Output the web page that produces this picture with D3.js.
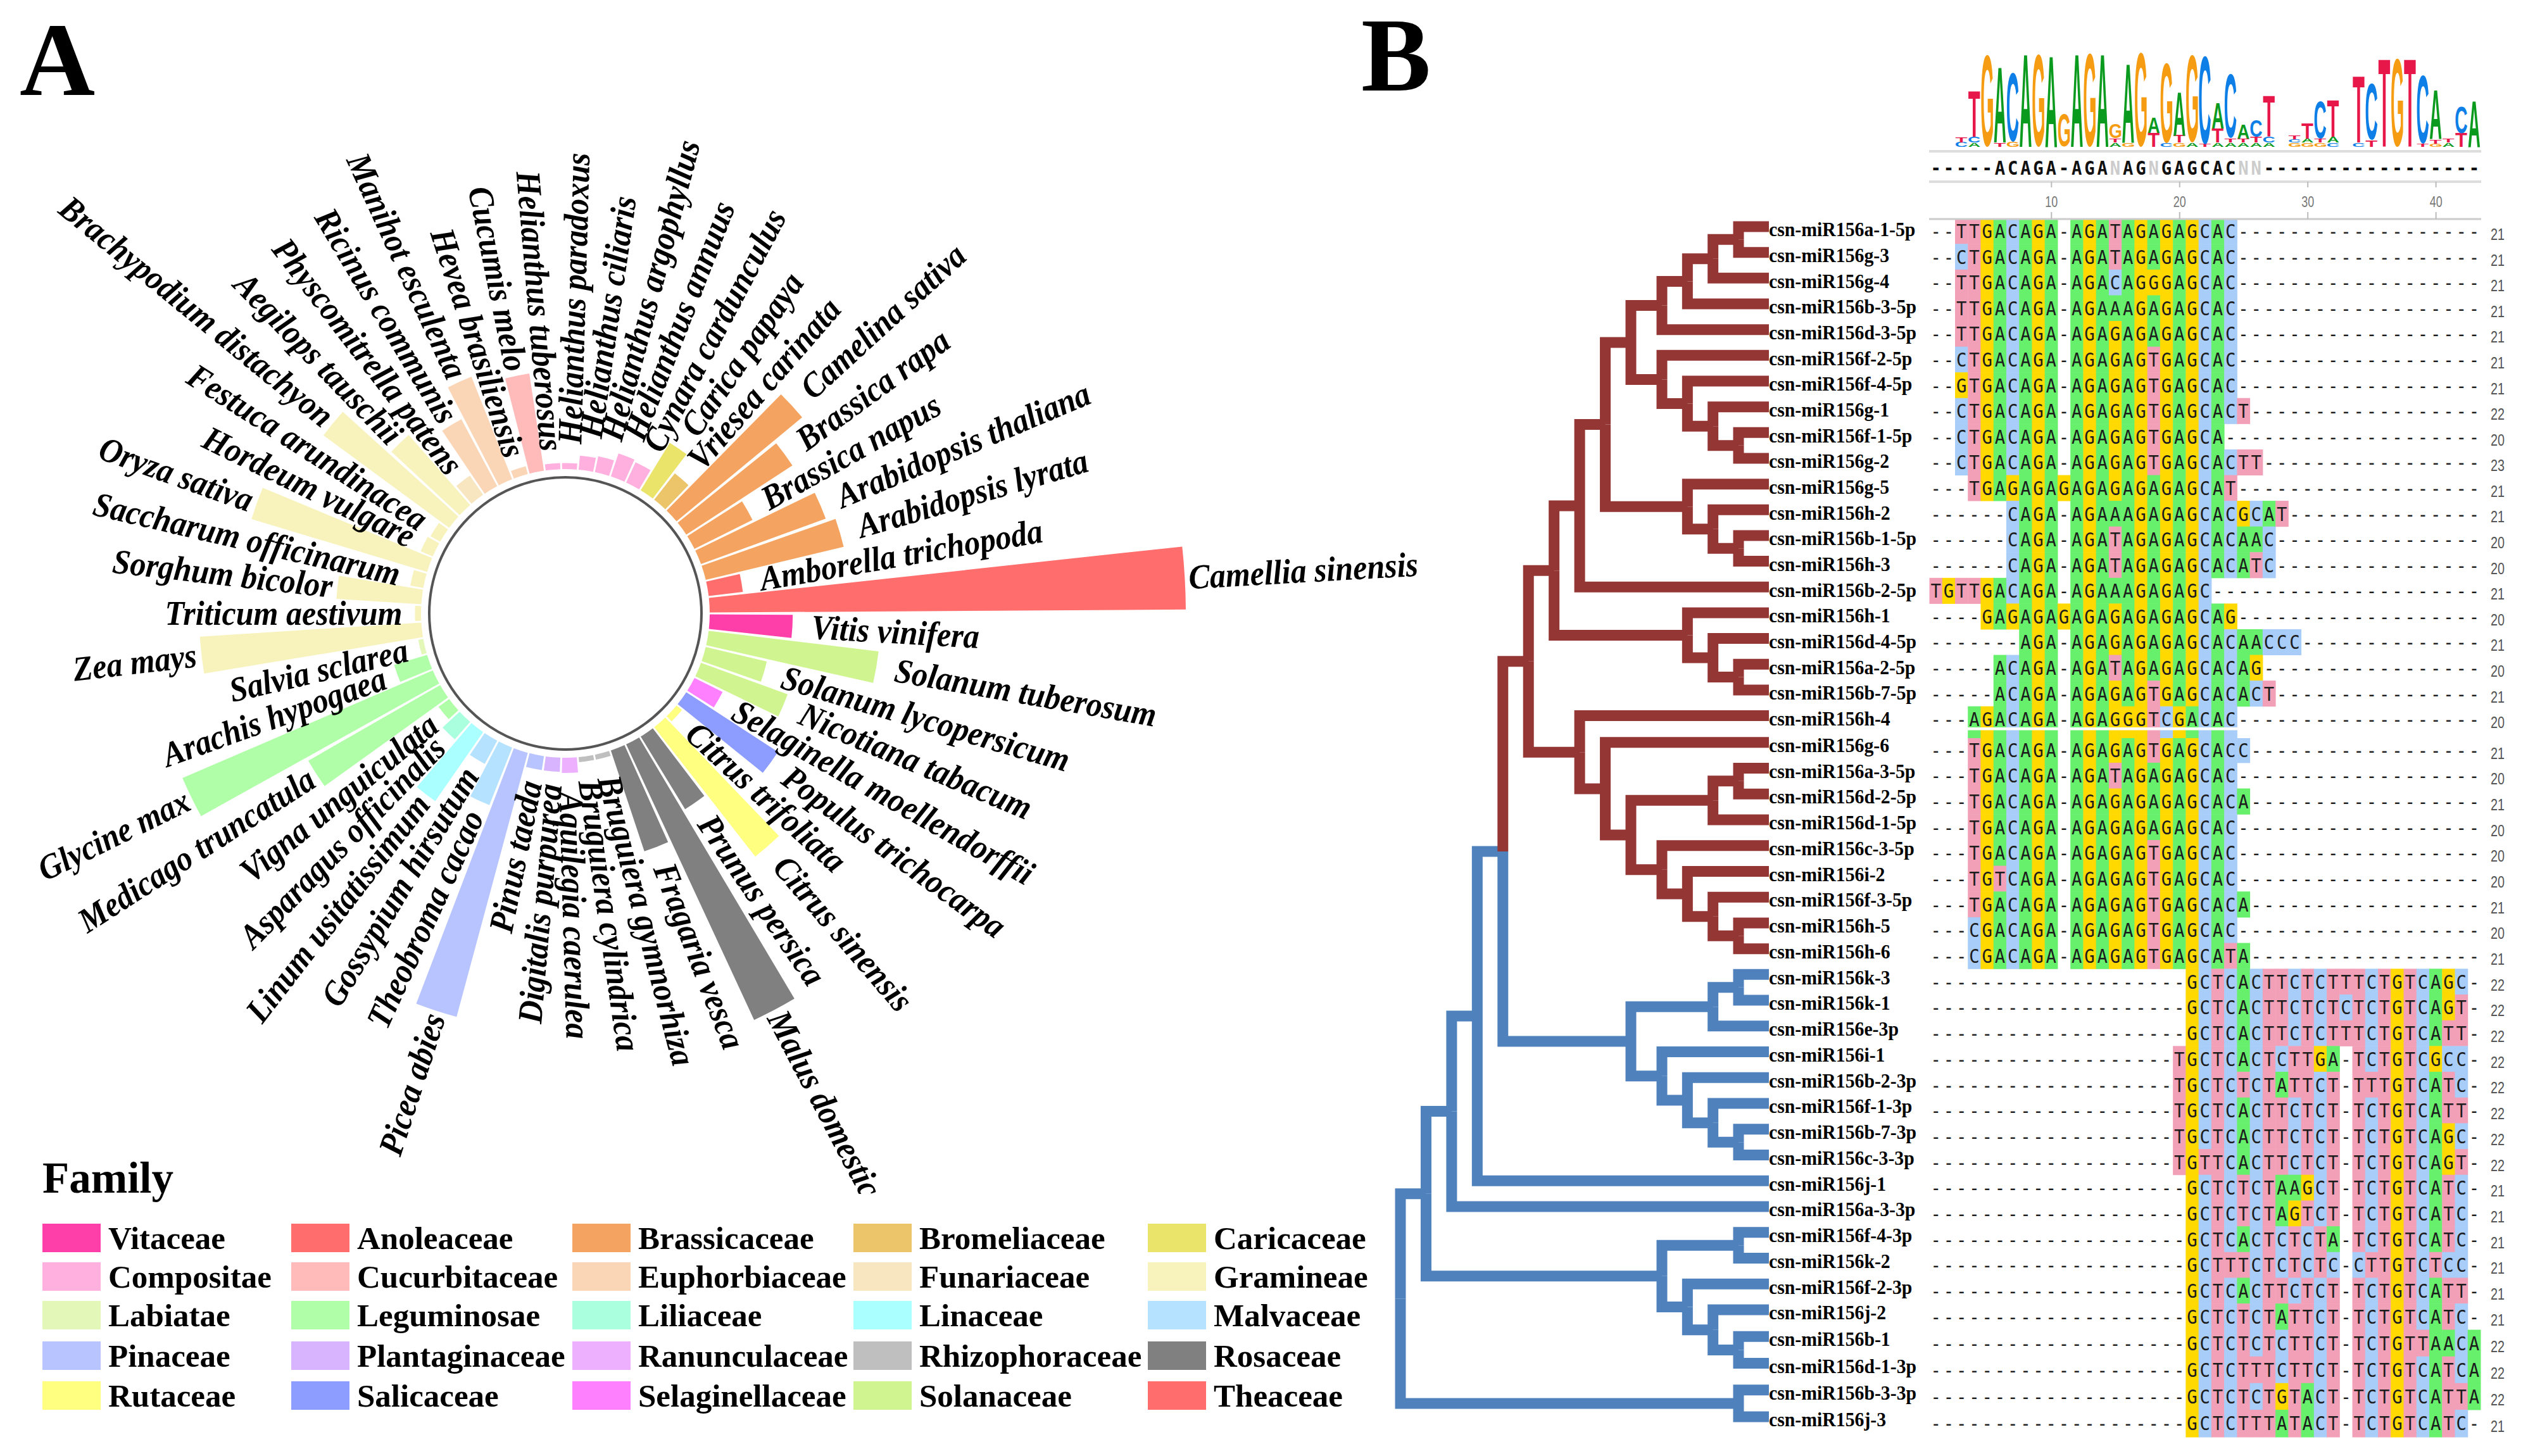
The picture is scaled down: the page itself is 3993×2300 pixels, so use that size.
<!DOCTYPE html>
<html>
<head>
<meta charset="utf-8">
<script src="https://cdn.jsdelivr.net/npm/d3@7.9.0/dist/d3.min.js"></script>
<style>
  html, body { margin: 0; background: #fff; }
  svg { display: block; }
</style>
</head>
<body>
<svg id="fig" width="3993" height="2300"></svg>
<script>
// ---- panel A data, counter clockwise from 3 o'clock
const species = ['Camellia sinensis','Amborella trichopoda','Arabidopsis lyrata','Arabidopsis thaliana','Brassica napus','Brassica rapa','Camelina sativa','Vriesea carinata','Carica papaya','Cynara cardunculus','Helianthus annuus','Helianthus argophyllus','Helianthus ciliaris','Helianthus paradoxus','Helianthus tuberosus','Cucumis melo','Hevea brasiliensis','Manihot esculenta','Ricinus communis','Physcomitrella patens','Aegilops tauschii','Brachypodium distachyon','Festuca arundinacea','Hordeum vulgare','Oryza sativa','Saccharum officinarum','Sorghum bicolor','Triticum aestivum','Zea mays','Salvia sclarea','Arachis hypogaea','Glycine max','Medicago truncatula','Vigna unguiculata','Asparagus officinalis','Linum usitatissimum','Gossypium hirsutum','Theobroma cacao','Picea abies','Pinus taeda','Digitalis purpurea','Aquilegia caerulea','Bruguiera cylindrica','Bruguiera gymnorhiza','Fragaria vesca','Malus domestica','Prunus persica','Citrus sinensis','Citrus trifoliata','Populus trichocarpa','Selaginella moellendorffii','Nicotiana tabacum','Solanum lycopersicum','Solanum tuberosum','Vitis vinifera'];
const speciesValues = [47,3.4,14,13.1,6.4,12.5,16.1,3.3,5.5,2.2,2.4,1.6,1.4,0.6,0.6,9.7,0.8,10.9,7.5,2.3,9.2,15.4,1.1,1.3,18.1,1.3,8.4,0.6,21.9,0.5,3.4,26.9,15,1.3,2.3,8.3,2.6,6.1,27,1.4,1.4,1.5,0.5,0.5,10.5,30,8.4,16.2,0.7,10.8,3.1,9.1,6.2,16.9,8.2];
const speciesFamily = ['Theaceae','Anoleaceae','Brassicaceae','Brassicaceae','Brassicaceae','Brassicaceae','Brassicaceae','Bromeliaceae','Caricaceae','Compositae','Compositae','Compositae','Compositae','Compositae','Compositae','Cucurbitaceae','Euphorbiaceae','Euphorbiaceae','Euphorbiaceae','Funariaceae','Gramineae','Gramineae','Gramineae','Gramineae','Gramineae','Gramineae','Gramineae','Gramineae','Gramineae','Labiatae','Leguminosae','Leguminosae','Leguminosae','Leguminosae','Liliaceae','Linaceae','Malvaceae','Malvaceae','Pinaceae','Pinaceae','Plantaginaceae','Ranunculaceae','Rhizophoraceae','Rhizophoraceae','Rosaceae','Rosaceae','Rosaceae','Rutaceae','Rutaceae','Salicaceae','Selaginellaceae','Solanaceae','Solanaceae','Solanaceae','Vitaceae'];
const families = ['Vitaceae','Anoleaceae','Brassicaceae','Bromeliaceae','Caricaceae','Compositae','Cucurbitaceae','Euphorbiaceae','Funariaceae','Gramineae','Labiatae','Leguminosae','Liliaceae','Linaceae','Malvaceae','Pinaceae','Plantaginaceae','Ranunculaceae','Rhizophoraceae','Rosaceae','Rutaceae','Salicaceae','Selaginellaceae','Solanaceae','Theaceae'];
const familyColors = ['#ff3fa9','#ff6d6d','#f4a460','#ecc56a','#ebe46a','#ffb0df','#ffbaba','#fad5b6','#f8e6c0','#f8f3bc','#e2f7b8','#b0ffa8','#aaffdf','#aaffff','#b4e2ff','#b8c4ff','#d8b4ff','#ecb0ff','#bfbfbf','#808080','#ffff80','#8c9cff','#ff80ff','#d0f590','#ff6d6d'];

// ---- panel B data
const a4Clade = [[[['csn-miR156a-1-5p','csn-miR156g-3'],'csn-miR156g-4'],'csn-miR156b-3-5p'],'csn-miR156d-3-5p'];
const f2Clade = ['csn-miR156f-2-5p',['csn-miR156f-4-5p',['csn-miR156g-1',['csn-miR156f-1-5p','csn-miR156g-2']]]];
const g5Clade = ['csn-miR156g-5',['csn-miR156h-2',['csn-miR156b-1-5p','csn-miR156h-3']]];
const h1Clade = ['csn-miR156h-1',['csn-miR156d-4-5p',['csn-miR156a-2-5p','csn-miR156b-7-5p']]];
const h4Clade = ['csn-miR156h-4',['csn-miR156g-6',[[['csn-miR156a-3-5p','csn-miR156d-2-5p'],'csn-miR156d-1-5p'],
  ['csn-miR156c-3-5p',['csn-miR156i-2',['csn-miR156f-3-5p',['csn-miR156h-5','csn-miR156h-6']]]]]]];
const redClade = [[[[[a4Clade,f2Clade],g5Clade],'csn-miR156b-2-5p'],h1Clade],h4Clade];
const kClade = [[['csn-miR156k-3','csn-miR156k-1'],'csn-miR156e-3p'],
  ['csn-miR156i-1',['csn-miR156b-2-3p',['csn-miR156f-1-3p',['csn-miR156b-7-3p','csn-miR156c-3-3p']]]]];
const f4Clade = [['csn-miR156f-4-3p','csn-miR156k-2'],
  ['csn-miR156f-2-3p',['csn-miR156j-2',['csn-miR156b-1','csn-miR156d-1-3p']]]];
const treeData = [[[[[redClade,kClade],'csn-miR156j-1'],'csn-miR156a-3-3p'],f4Clade],['csn-miR156b-3-3p','csn-miR156j-3']];

const sequences = [
  '--TTGACAGA-AGATAGAGAGCAC','--CTGACAGA-AGATAGAGAGCAC','--TTGACAGA-AGACAGGGAGCAC','--TTGACAGA-AGAAAGAGAGCAC',
  '--TTGACAGA-AGAGAGAGAGCAC','--CTGACAGA-AGAGAGTGAGCAC','--GTGACAGA-AGAGAGTGAGCAC','--CTGACAGA-AGAGAGTGAGCACT',
  '--CTGACAGA-AGAGAGTGAGCA','--CTGACAGA-AGAGAGTGAGCACTT','---TGAGAGAGAGAGAGAGAGCAT','------CAGA-AGAAAGAGAGCACGCAT',
  '------CAGA-AGATAGAGAGCACAAC','------CAGA-AGATAGAGAGCACATC','TGTTGACAGA-AGAAAGAGAGC','----GAGAGAGAGAGAGAGAGCAG',
  '-------AGA-AGAGAGAGAGCACAACCC','-----ACAGA-AGATAGAGAGCACAG','-----ACAGA-AGAGAGTGAGCACACT','---AGACAGA-AGAGGGTCGACAC',
  '---TGACAGA-AGAGAGTGAGCACC','---TGACAGA-AGATAGAGAGCAC','---TGACAGA-AGAGAGAGAGCACA','---TGACAGA-AGAGAGAGAGCAC',
  '---TGACAGA-AGAGAGTGAGCAC','---TGTCAGA-AGAGAGTGAGCAC','---TGACAGA-AGAGAGTGAGCACA','---CGACAGA-AGAGAGTGAGCAC',
  '---CGACAGA-AGAGAGTGAGCATA',
  '--------------------GCTCACTTCTCTTTCTGTCAGC','--------------------GCTCACTTCTCTCTCTGTCAGT','--------------------GCTCACTTCTCTTTCTGTCATT',
  '-------------------TGCTCACTCTTGA-TCTGTCGCC','-------------------TGCTCTCTATTCT-TTTGTCATC','-------------------TGCTCACTTCTCT-TCTGTCATT',
  '-------------------TGCTCACTTCTCT-TCTGTCAGC','-------------------TGTTCACTTCTCT-TCTGTCAGT','--------------------GCTCTCTAAGCT-TCTGTCATC',
  '--------------------GCTCTCTAGTCT-TCTGTCATC','--------------------GCTCACTCTCTA-TCTGTCATC','--------------------GCTTTCTCTCTC-CTTGTCTCC',
  '--------------------GCTCACTTCTCT-TCTGTCATT','--------------------GCTCTCTATTCT-TCTGTCATC','--------------------GCTCTCTCTTCT-TCTGTTAACA',
  '--------------------GCTCTTTCTTCT-TCTGTCATCA','--------------------GCTCTCTGTACT-TCTGTCATTA','--------------------GCTCTTTATACT-TCTGTCATC'
].map(s => s.padEnd(43, '-'));
const seqLengths = [21,21,21,21,21,21,21,22,20,23,21,21,20,20,21,20,21,20,21,20,21,20,21,20,20,20,21,20,21,22,22,22,22,22,22,22,22,21,21,21,21,21,21,22,22,22,21];
const consensus = '-----ACAGA-AGANAGNGAGCACNN'.padEnd(43, '-');
const positionTicks = [10,20,30,40];

// logo stacks, one entry per column: [letter, bits] from the bottom up
const logoStacks = {
  2:[['C',.1],['T',.1]], 3:[['A',.09],['C',.12],['T',.97]], 4:[['G',1.94]], 5:[['T',.09],['A',1.61]], 6:[['G',.1],['C',1.46]],
  7:[['A',1.97]], 8:[['G',1.97]], 9:[['A',1.94]], 10:[['G',.69]], 11:[['A',1.97]], 12:[['G',1.98]], 13:[['A',1.97]],
  14:[['A',.09],['T',.09],['G',.3]], 15:[['G',.09],['A',1.67]], 16:[['G',2]], 17:[['T',.3],['A',.33]], 18:[['C',.09],['G',1.69]],
  19:[['G',.09],['T',.15],['A',.93]], 20:[['A',.09],['G',1.85]], 21:[['T',.06],['C',1.87]], 22:[['A',.09],['T',.3],['A',.54]],
  23:[['A',.09],['T',.09],['C',1.37]], 24:[['A',.09],['T',.09],['A',.3]], 25:[['A',.09],['T',.12],['C',.36]], 26:[['A',.09],['C',.12],['T',.87]],
  28:[['G',.09],['C',.07],['T',.09]], 29:[['G',.09],['A',.09],['T',.33]], 30:[['G',.09],['T',.09],['C',.8]], 31:[['C',.09],['A',.12],['T',.78]],
  33:[['C',.09],['T',1.42]], 34:[['T',.14],['C',1.2]], 35:[['T',1.87]], 36:[['G',1.88]], 37:[['T',1.87]], 38:[['T',.06],['C',1.45]],
  39:[['G',.07],['T',.09],['A',1.05]], 40:[['A',.09],['T',.09]], 41:[['T',.29],['C',.57]], 42:[['A',.98]]
};

const svg = d3.select('#fig');
const serif = '"Liberation Serif", "Times New Roman", serif';
const mono = '"DejaVu Sans Mono", monospace';
const sans = '"Liberation Sans", Arial, sans-serif';

// panel letters
svg.append('text').attr('x', 31).attr('y', 150).text('A')
  .attr('font-family', serif).attr('font-weight', 'bold').attr('font-size', 165);
svg.append('text').attr('x', 2150).attr('y', 143).text('B')
  .attr('font-family', serif).attr('font-weight', 'bold').attr('font-size', 165);

// ---- panel A: circular bars
const cx = 893, cy = 969;
const toRad = Math.PI / 180;
const angle = d3.scaleBand().domain(species).range([90 * toRad, -270 * toRad]).paddingInner(0.11).paddingOuter(0.055);
const radius = d3.scaleLinear().domain([0, 47]).range([228, 980]);
const familyColor = d3.scaleOrdinal().domain(families).range(familyColors);

const polar = svg.append('g').attr('transform', `translate(${cx},${cy})`);
const arc = d3.arc();

polar.selectAll('path.bar')
  .data(species)
  .join('path')
  .attr('class', 'bar')
  .attr('fill', (d, i) => familyColor(speciesFamily[i]))
  .attr('d', (d, i) => arc({
    innerRadius: radius(0),
    outerRadius: radius(speciesValues[i]),
    startAngle: angle(d),
    endAngle: angle(d) + angle.bandwidth()
  }));

polar.append('circle').attr('r', 215).attr('fill', '#fff').attr('stroke', '#555').attr('stroke-width', 4);

// the legend block sits over the long labels at the bottom
svg.append('clipPath').attr('id', 'labelClip').append('rect').attr('width', 3993).attr('height', 1886);

function labelGap(rightSide, outer) {
  if (outer > 640) return 6;
  if (rightSide) return 30;
  return outer > 340 ? 8 : 20;
}

svg.append('g').attr('clip-path', 'url(#labelClip)')
  .selectAll('text')
  .data(species)
  .join('text')
  .text(d => d)
  .attr('font-family', serif)
  .attr('font-weight', 'bold')
  .attr('font-style', 'italic')
  .attr('font-size', 55)
  .attr('dy', '0.32em')
  .each(function (d, i) {
    let theta = (angle(d) + angle.bandwidth() / 2) / toRad;
    if (theta < 0) theta += 360;
    const rightSide = theta < 180;
    const outer = radius(speciesValues[i]);
    const r = outer + labelGap(rightSide, outer);
    const x = cx + r * Math.sin(theta * toRad);
    const y = cy - r * Math.cos(theta * toRad);
    // the source glyphs are a little condensed
    d3.select(this)
      .attr('text-anchor', rightSide ? 'start' : 'end')
      .attr('transform', `translate(${x},${y}) rotate(${rightSide ? theta - 90 : theta + 90}) scale(0.91,1)`);
  });

// legend
svg.append('text').attr('x', 67).attr('y', 1884).text('Family')
  .attr('font-family', serif).attr('font-weight', 'bold').attr('font-size', 69);

const legendCols = [67, 460, 904, 1348, 1813];
const legendRows = [1933, 1994, 2055, 2119, 2182];
const legend = svg.append('g').selectAll('g')
  .data(families)
  .join('g')
  .attr('transform', (d, i) => `translate(${legendCols[i % 5]},${legendRows[Math.floor(i / 5)]})`);
legend.append('rect').attr('width', 92).attr('height', 45).attr('fill', d => familyColor(d));
legend.append('text').attr('x', 104).attr('y', 40).text(d => d)
  .attr('font-family', serif).attr('font-weight', 'bold').attr('font-size', 51);

// ---- panel B: tree
const root = d3.hierarchy(treeData, d => Array.isArray(d) ? d : null);
const leaves = root.leaves();
const treeX = d3.scaleLinear().domain([0, 1, 4, 5, 14]).range([2794, 2746, 2625, 2576, 2212]);
const treeY = d3.scaleLinear().domain([0, 19, 20, 42, 46]).range([358, 1130.6, 1172.7, 2069, 2238]);

leaves.forEach((leaf, i) => { leaf.y = treeY(i); });
root.eachAfter(node => {
  node.x = treeX(node.height);
  if (node.children) node.y = (node.children[0].y + node.children[1].y) / 2;
});

const redNode = root.descendants().find(n => n.data === redClade);
const redNodes = new Set(redNode.descendants());
const links = root.links();

svg.append('g').selectAll('path')
  .data(links.sort((a, b) => redNodes.has(a.target) - redNodes.has(b.target)))
  .join('path')
  .attr('fill', 'none')
  .attr('stroke', d => redNodes.has(d.target) ? '#943634' : '#4f81bd')
  .attr('stroke-width', 17)
  .attr('stroke-linejoin', 'miter')
  .attr('d', d => `M${d.source.x},${d.source.y}V${d.target.y}H${d.target.x}`);

svg.append('g').selectAll('text')
  .data(leaves)
  .join('text')
  .attr('transform', d => `translate(2794,${d.y + 5}) scale(0.93,1)`)
  .attr('dy', '0.32em')
  .text(d => d.data)
  .attr('font-family', serif)
  .attr('font-weight', 'bold')
  .attr('font-size', 32);

// ---- panel B: alignment
const colX = d3.scaleBand().domain(d3.range(43)).range([3047.5, 3918]);
const rowY = d3.scaleLinear().domain([0, 19, 20, 42, 46]).range([365, 1136, 1184.5, 2079.5, 2248]);
const cellColor = { A: '#66f06c', C: '#a8cdf8', G: '#ffd900', T: '#f2a0b8' };

function rowTop(i) {
  if (i === 0) return 347;
  return i === 20 ? 1166 : (rowY(i - 1) + rowY(i)) / 2;
}
function rowBottom(i) {
  if (i === 46) return 2270;
  return i === 19 ? 1166 : (rowY(i) + rowY(i + 1)) / 2;
}

const rows = svg.append('g').selectAll('g')
  .data(sequences)
  .join('g');

rows.each(function (seq, i) {
  const row = d3.select(this);
  const chars = seq.split('').map((c, col) => ({ c, col }));
  row.selectAll('rect')
    .data(chars.filter(d => d.c !== '-'))
    .join('rect')
    .attr('x', d => colX(d.col))
    .attr('y', rowTop(i))
    .attr('width', colX.bandwidth() + 0.5)
    .attr('height', rowBottom(i) - rowTop(i) + 0.5)
    .attr('fill', d => cellColor[d.c]);
});
svg.append('rect').attr('x', 3040).attr('y', 1149).attr('width', 880).attr('height', 4.5).attr('fill', '#fff');

rows.each(function (seq, i) {
  d3.select(this).selectAll('text')
    .data(seq.split('').map((c, col) => ({ c, col })))
    .join('text')
    .attr('transform', d => `translate(${colX(d.col) + colX.bandwidth() / 2},${rowY(i)}) scale(0.88,1)`)
    .attr('dy', '0.36em')
    .attr('text-anchor', 'middle')
    .attr('font-family', mono)
    .attr('font-size', 31)
    .attr('fill', '#1c1c1c')
    .text(d => d.c);
});

svg.append('g').selectAll('text')
  .data(seqLengths)
  .join('text')
  .attr('x', 3934)
  .attr('y', (d, i) => rowY(i) + 5)
  .attr('dy', '0.35em')
  .attr('textLength', 22)
  .attr('lengthAdjust', 'spacingAndGlyphs')
  .attr('font-family', sans)
  .attr('font-size', 26)
  .attr('fill', '#555')
  .text(d => d);

// position ruler, consensus strip
const posX = d3.scaleLinear().domain([1, 43]).range([colX(0) + colX.bandwidth() / 2, colX(42) + colX.bandwidth() / 2]);
const axisLow = svg.append('g').attr('transform', 'translate(0,346)')
  .call(d3.axisTop(posX).tickValues(positionTicks).tickSize(11).tickPadding(8).tickSizeOuter(0));
axisLow.select('.domain').attr('stroke', '#ccc').attr('stroke-width', 3).attr('d', 'M3047,0H3919');
axisLow.selectAll('line').attr('stroke', '#bbb').attr('stroke-width', 2);
axisLow.selectAll('text').attr('font-family', sans).attr('font-size', 24).attr('fill', '#777')
  .attr('textLength', 20).attr('lengthAdjust', 'spacingAndGlyphs');

const axisHigh = svg.append('g').attr('transform', 'translate(0,287)')
  .call(d3.axisBottom(posX).tickValues(positionTicks).tickSize(9).tickFormat('').tickSizeOuter(0));
axisHigh.select('.domain').attr('stroke', '#ddd').attr('stroke-width', 4).attr('d', 'M3047,0H3919');
axisHigh.selectAll('line').attr('stroke', '#bbb').attr('stroke-width', 2);

svg.append('line').attr('x1', 3047).attr('x2', 3919).attr('y1', 239).attr('y2', 239)
  .attr('stroke', '#ddd').attr('stroke-width', 4);

svg.append('g').selectAll('text')
  .data(consensus.split(''))
  .join('text')
  .attr('transform', (d, i) => `translate(${colX(i) + colX.bandwidth() / 2},265) scale(0.88,1)`)
  .attr('dy', '0.36em')
  .attr('text-anchor', 'middle')
  .attr('font-family', mono)
  .attr('font-weight', 'bold')
  .attr('font-size', 31)
  .attr('fill', d => d === 'N' ? '#ccc' : '#111')
  .text(d => d);

// ---- sequence logo
const bits = d3.scaleLinear().domain([0, 2]).range([232, 83]);
const logoColor = { A: '#0a9a1e', C: '#0f7fe8', G: '#f59c12', T: '#e8174a' };
const ctx = document.createElement('canvas').getContext('2d');
ctx.font = `bold 100px ${sans}`;
const logoGroup = svg.append('g');

Object.entries(logoStacks).forEach(([col, stack]) => {
  let base = 0;
  stack.forEach(([letter, h]) => {
    const m = ctx.measureText(letter);
    const inkW = m.actualBoundingBoxLeft + m.actualBoundingBoxRight;
    const inkH = m.actualBoundingBoxAscent + m.actualBoundingBoxDescent;
    const sx = colX.bandwidth() * 0.92 / inkW;
    const sy = (bits(base) - bits(base + h)) / inkH;
    const left = colX(+col) + colX.bandwidth() * 0.04;
    logoGroup.append('text')
      .attr('transform', `translate(${left + m.actualBoundingBoxLeft * sx},${bits(base) - m.actualBoundingBoxDescent * sy}) scale(${sx},${sy})`)
      .attr('font-family', sans)
      .attr('font-weight', 'bold')
      .attr('font-size', 100)
      .attr('fill', logoColor[letter])
      .text(letter);
    base += h;
  });
});
</script>
</body>
</html>
